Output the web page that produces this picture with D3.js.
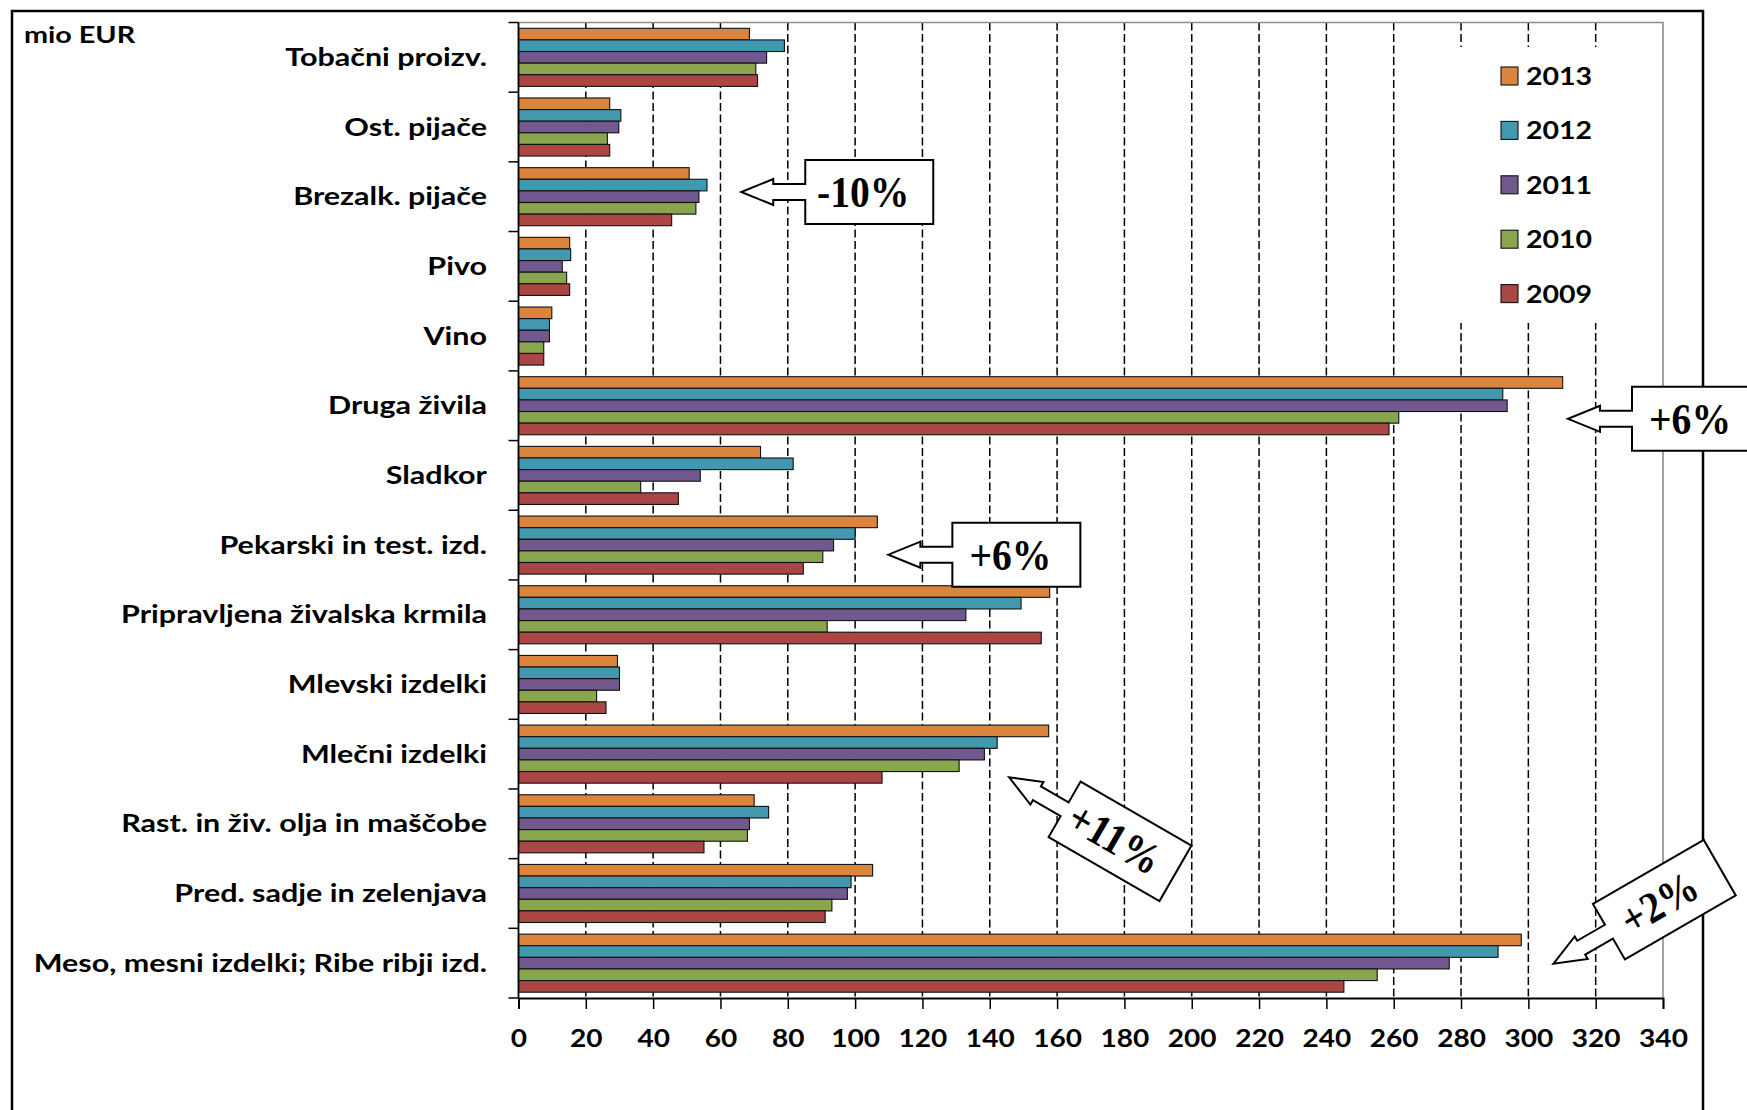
<!DOCTYPE html>
<html><head><meta charset="utf-8">
<script src="https://cdn.jsdelivr.net/npm/d3@7"></script>
<style>html,body{margin:0;padding:0;background:#fff;}svg{display:block;}</style>
</head><body>
<script>
// ---------- data ----------
const categories = ["Tobačni proizv.", "Ost. pijače", "Brezalk. pijače", "Pivo", "Vino", "Druga živila", "Sladkor",
  "Pekarski in test. izd.", "Pripravljena živalska krmila", "Mlevski izdelki", "Mlečni izdelki",
  "Rast. in živ. olja in maščobe", "Pred. sadje in zelenjava", "Meso, mesni izdelki; Ribe ribji izd."];
const years = ["2013", "2012", "2011", "2010", "2009"];
const v2013 = [68.6, 27.1, 50.7, 15.2, 9.9, 310.2, 71.9, 106.6, 157.8, 29.4, 157.5, 70.0, 105.2, 297.9];
const v2012 = [79.0, 30.4, 56.0, 15.5, 9.2, 292.4, 81.6, 100.0, 149.3, 30.0, 142.2, 74.3, 98.8, 291.0];
const v2011 = [73.7, 29.8, 53.6, 13.0, 9.2, 293.7, 54.0, 93.6, 132.9, 30.0, 138.4, 68.6, 97.7, 276.5];
const v2010 = [70.5, 26.4, 52.7, 14.3, 7.5, 261.5, 36.3, 90.4, 91.7, 23.2, 130.9, 68.0, 93.1, 255.1];
const v2009 = [71.0, 27.1, 45.5, 15.2, 7.5, 258.6, 47.5, 84.6, 155.3, 26.0, 108.0, 55.1, 91.1, 245.2];
const xTicks = [0,20,40,60,80,100,120,140,160,180,200,220,240,260,280,300,320,340];
const unitLabel = "mio EUR";
// callouts: text, anchor category, anchor value, rotation
const calloutText = ["-10%", "+6%", "+6%", "+11%", "+2%"];
const calloutCat  = ["Brezalk. pijače", "Druga živila", "Pekarski in test. izd.", "Rast. in živ. olja in maščobe", "Pred. sadje in zelenjava"];
const calloutVal  = [104.2, 349.8, 147.9, 178.7, 340.4];
const calloutAngle = [0, 0, 0, 30, -30];

const seriesValues = [v2013, v2012, v2011, v2010, v2009];
const colors = ["#DB843D", "#4198AF", "#71588F", "#89A54E", "#AA4643"];

// ---------- layout ----------
const W = 1747, H = 1110;
const plot = {left: 518.5, right: 1663, top: 22.5, bottom: 998};
const labelFont = "Lato, 'Open Sans', sans-serif";

const svg = d3.select("body").append("svg").attr("width", W).attr("height", H);
svg.append("rect").attr("width", W).attr("height", H).attr("fill", "#fff");

// outer frame
svg.append("rect").attr("x", 12).attr("y", 11).attr("width", 1691).attr("height", 1300)
  .attr("fill", "none").attr("stroke", "#000").attr("stroke-width", 2.5);

const x = d3.scaleLinear().domain([0, 340]).range([plot.left, plot.right]);
const y = d3.scaleBand().domain(categories).range([plot.top, plot.bottom])
  .paddingInner(1/6).paddingOuter(1/12);
const yInner = d3.scaleBand().domain(years).range([0, y.bandwidth()]);

// gridlines
svg.append("g").selectAll("line").data(xTicks.filter(t => t > 0 && t < 340)).join("line")
  .attr("x1", d => x(d)).attr("x2", d => x(d))
  .attr("y1", plot.top).attr("y2", plot.bottom)
  .attr("stroke", "#000").attr("stroke-width", 1.5).attr("stroke-dasharray", "8,3.5");

// legend background
const legend = svg.append("g");
legend.append("rect").attr("x", 1420).attr("y", 47).attr("width", 222).attr("height", 276).attr("fill", "#fff");

// plot border (top & right, gray)
svg.append("path")
  .attr("d", `M${plot.left},${plot.top}H${plot.right}V${plot.bottom}`)
  .attr("fill", "none").attr("stroke", "#8c8c8c").attr("stroke-width", 1.6);

// bars
const groups = svg.append("g").selectAll("g").data(categories).join("g")
  .attr("transform", d => `translate(0,${y(d)})`);
groups.selectAll("rect").data((c, i) => years.map((yr, k) => ({yr, v: seriesValues[k][i], k}))).join("rect")
  .attr("x", x(0)).attr("y", d => yInner(d.yr))
  .attr("width", d => x(d.v) - x(0)).attr("height", yInner.bandwidth())
  .attr("fill", d => colors[d.k]).attr("stroke", "#111").attr("stroke-width", 1.1);

// x axis
const xAxis = d3.axisBottom(x).tickValues(xTicks).tickSize(11).tickPadding(20).tickFormat(d3.format("d"));
const gx = svg.append("g").attr("transform", `translate(0,${plot.bottom})`).call(xAxis);
gx.select(".domain").attr("stroke", "#000").attr("stroke-width", 1.8);
gx.selectAll(".tick line").attr("stroke", "#000").attr("stroke-width", 1.5);
gx.selectAll(".tick text").attr("font-family", labelFont).attr("font-weight", "bold")
  .attr("font-size", 25.5).attr("fill", "#000").attr("transform", "scale(1.1,1)");

// y axis line & ticks at category boundaries
svg.append("line").attr("x1", plot.left).attr("x2", plot.left).attr("y1", plot.top).attr("y2", plot.bottom)
  .attr("stroke", "#000").attr("stroke-width", 1.8);
const bounds = categories.map(c => y(c) - y.step() * y.paddingInner() / 2).concat([plot.bottom]);
svg.append("g").selectAll("line").data(bounds).join("line")
  .attr("x1", plot.left - 10).attr("x2", plot.left).attr("y1", d => d).attr("y2", d => d)
  .attr("stroke", "#000").attr("stroke-width", 1.5);

// category labels
svg.append("g").selectAll("text").data(categories).join("text")
  .attr("transform", d => `translate(487,${y(d) + y.bandwidth() / 2 + 8.5}) scale(1.27,1)`)
  .attr("text-anchor", "end").attr("font-family", labelFont).attr("font-weight", "bold")
  .attr("font-size", 24).attr("fill", "#000").text(d => d);

// unit label
svg.append("text").attr("transform", "translate(24,43) scale(1.25,1)").attr("font-family", labelFont).attr("font-weight", "bold")
  .attr("font-size", 23).text(unitLabel);

// legend items
const li = legend.selectAll("g.item").data(years).join("g").attr("class", "item")
  .attr("transform", (d, i) => `translate(1501,${76 + i * 54.4})`);
li.append("rect").attr("x", 0).attr("y", -9).attr("width", 17).attr("height", 18)
  .attr("fill", (d, i) => colors[i]).attr("stroke", "#111").attr("stroke-width", 1.1);
li.append("text").attr("transform", "translate(25,9) scale(1.14,1)").attr("font-family", labelFont).attr("font-weight", "bold")
  .attr("font-size", 25).text(d => d);

// callouts (left-arrow callout shapes)
const shape = "M-64,-32H64V32H-64V8H-96V13L-128,0L-96,-13V-8H-64Z";
const offsets = [-4.7, 13.1, 9.6, 17.5, 6.2];
const co = svg.append("g").selectAll("g").data(calloutText).join("g")
  .attr("transform", (d, i) => `translate(${x(calloutVal[i])},${y(calloutCat[i]) + y.bandwidth() / 2 + offsets[i]}) rotate(${calloutAngle[i]})`);
co.append("path").attr("d", shape).attr("fill", "#fff").attr("stroke", "#000").attr("stroke-width", 2);
co.append("text").attr("transform", "translate(-6,15) scale(0.9,1)")
  .attr("text-anchor", "middle").attr("font-family", "'Liberation Serif', 'Times New Roman', serif")
  .attr("font-weight", "bold").attr("font-size", 44).attr("fill", "#000").text(d => d);
</script>
</body></html>
